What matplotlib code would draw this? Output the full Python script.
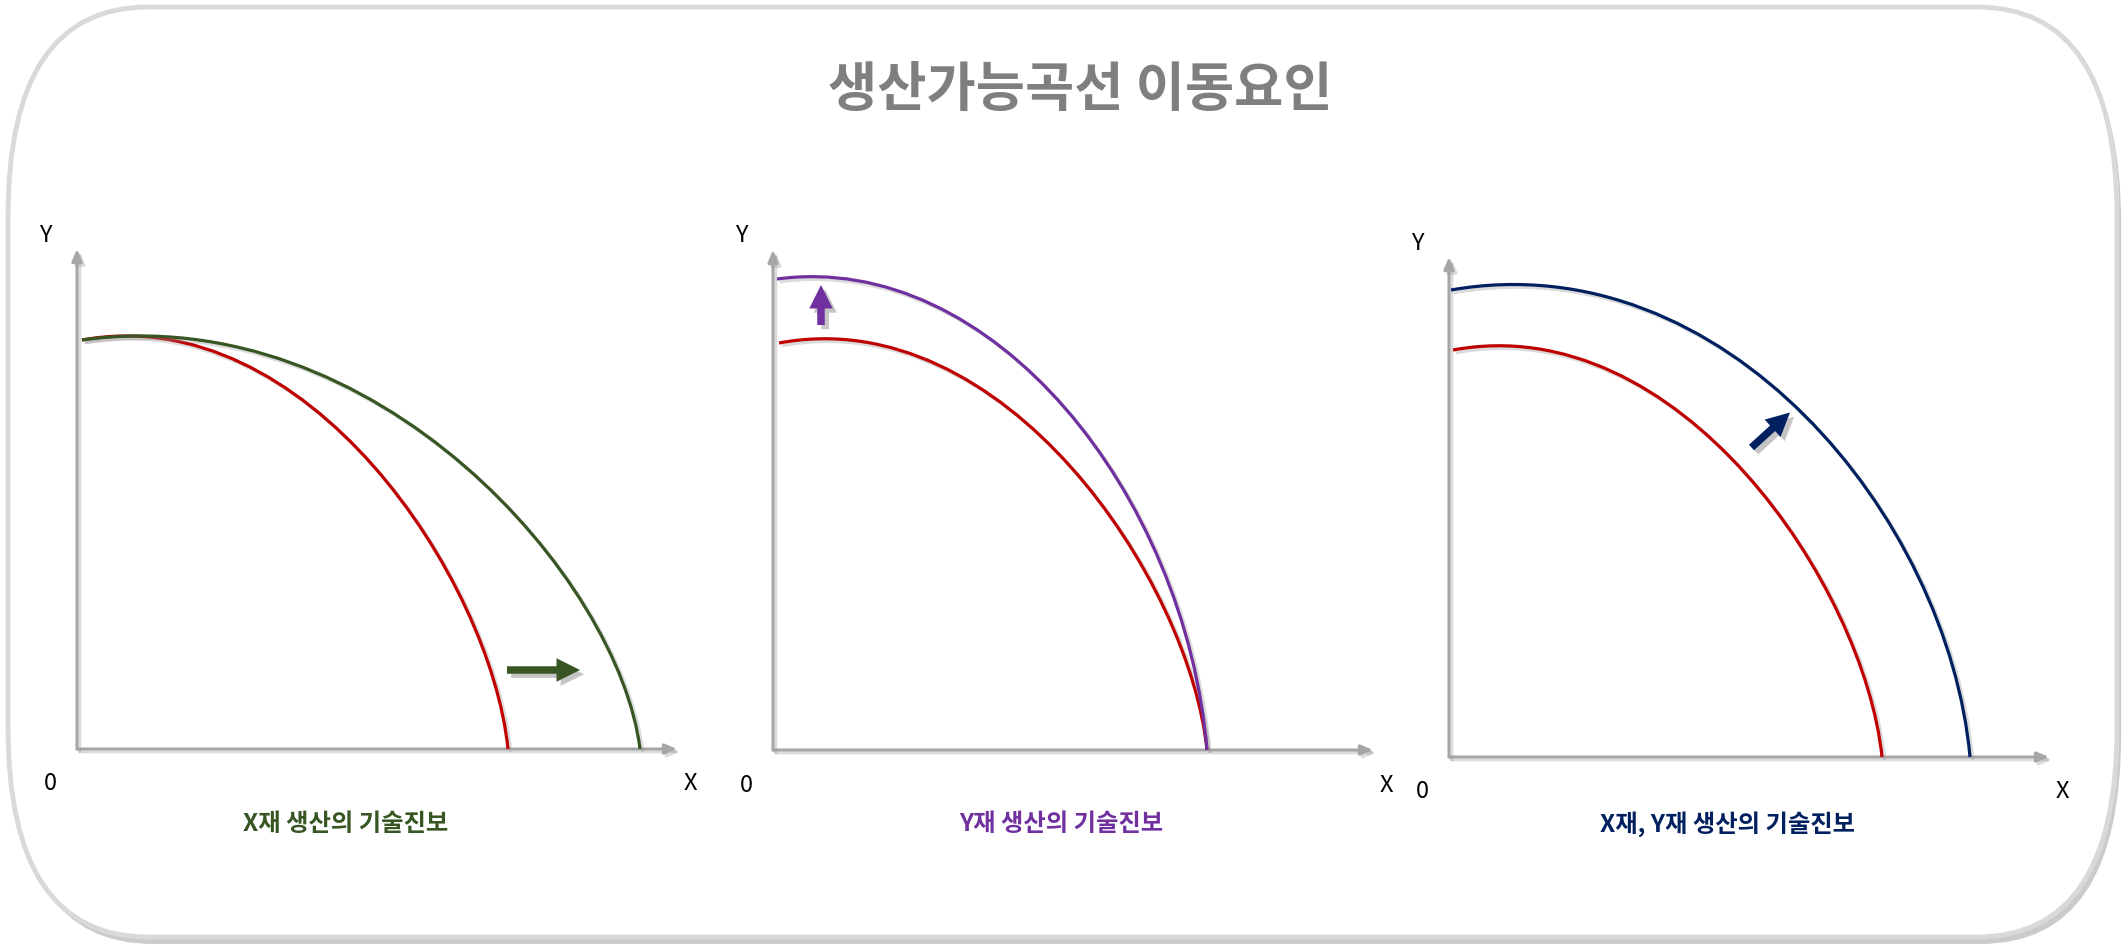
import matplotlib
matplotlib.use('Agg')
import matplotlib.pyplot as plt
from matplotlib.path import Path
from matplotlib.patches import PathPatch, FancyArrow, FancyBboxPatch
import matplotlib.patheffects as pe

plt.rcParams['font.family'] = ['Noto Sans CJK KR', 'DejaVu Sans']

# --- chart content -------------------------------------------------------
title = '생산가능곡선 이동요인'
captions = ['X재 생산의 기술진보', 'Y재 생산의 기술진보', 'X재, Y재 생산의 기술진보']
caption_colors = ['#375623', '#7030a0', '#002060']
axis_labels = ['Y', '0', 'X']

# original PPF (red), cubic Bezier control points per panel
old_ppf_x = [[0.10, 4.60, 8.27, 8.62], [0.12, 4.62, 8.33, 8.68], [0.08, 4.61, 8.31, 8.66]]
old_ppf_y = [[8.18, 9.00, 3.40, 0.00], [8.14, 8.98, 3.40, 0.00], [8.14, 8.98, 3.40, 0.00]]
# shifted PPF, cubic Bezier control points per panel
new_ppf_x = [[0.10, 6.00, 10.84, 11.26], [0.08, 4.40, 8.25, 8.68], [0.04, 5.50, 9.98, 10.42]]
new_ppf_y = [[8.18, 9.00, 3.40, 0.00], [9.42, 10.00, 5.10, 0.00], [9.34, 10.30, 4.80, 0.00]]
# shift arrows (start, end)
shift_start = [(8.60, 1.58), (0.96, 8.50), (6.05, 6.19)]
shift_end = [(10.06, 1.58), (0.96, 9.30), (6.82, 6.89)]

old_color = '#c00000'
axis_color = '#a6a6a6'

# --- layout (pixels) -----------------------------------------------------
W, H = 2127, 948
origins = [(77, 749), (773, 750), (1449, 757)]
unit = 50  # pixels per data unit

fig = plt.figure(figsize=(W / 100, H / 100), dpi=100)
fig.patch.set_facecolor('white')

# rounded frame behind everything
bg = fig.add_axes([0, 0, 1, 1], zorder=0)
bg.set_xlim(0, W)
bg.set_ylim(0, H)
bg.axis('off')
frame = FancyBboxPatch((8, 11), 2109, 930,
                       boxstyle='round,pad=0,rounding_size=140',
                       mutation_aspect=1.5, fc='white', ec='#d9d9d9', lw=3.5,
                       path_effects=[pe.SimplePatchShadow(offset=(3, -5), shadow_rgbFace='#bfbfbf', alpha=0.8),
                                     pe.Normal()])
bg.add_patch(frame)

fig.text(1080 / W, 1 - 90 / H, title, ha='center', va='center',
         fontsize=38.5, fontweight='bold', color='#7f7f7f')

line_fx = [pe.SimpleLineShadow(offset=(2, -2), shadow_color='#999999', alpha=0.35), pe.Normal()]
arrow_fx = [pe.SimplePatchShadow(offset=(3, -3), shadow_rgbFace='#808080', alpha=0.45), pe.Normal()]


def bezier(ax, xs, ys, color):
    verts = list(zip(xs, ys))
    codes = [Path.MOVETO, Path.CURVE4, Path.CURVE4, Path.CURVE4]
    patch = PathPatch(Path(verts, codes), fill=False, ec=color, lw=2.3,
                      clip_on=False, path_effects=line_fx, zorder=3)
    ax.add_patch(patch)


for i, (ox, oy) in enumerate(origins):
    ax = fig.add_axes([ox / W, (H - oy) / H, 12 * unit / W, 10 * unit / H], zorder=1)
    ax.set_xlim(0, 12)
    ax.set_ylim(0, 10)
    ax.axis('off')

    # axes with arrow heads
    for tip in [(12, 0), (0, 10)]:
        ax.annotate('', xy=tip, xytext=(0, 0),
                    arrowprops=dict(arrowstyle='-|>,head_length=0.7,head_width=0.3',
                                    color=axis_color, lw=2.2, shrinkA=0, shrinkB=0,
                                    path_effects=line_fx),
                    annotation_clip=False)

    ax.text(-0.64, 10.28, axis_labels[0], fontsize=17, ha='center', va='center', color='black')
    ax.text(-0.54, -0.70, axis_labels[1], fontsize=17, ha='center', va='center', color='black')
    ax.text(12.26, -0.70, axis_labels[2], fontsize=17, ha='center', va='center', color='black')

    bezier(ax, old_ppf_x[i], old_ppf_y[i], old_color)
    bezier(ax, new_ppf_x[i], new_ppf_y[i], caption_colors[i])

    (x0, y0), (x1, y1) = shift_start[i], shift_end[i]
    arr = FancyArrow(x0, y0, x1 - x0, y1 - y0, width=0.15, head_width=0.47,
                     head_length=0.47, length_includes_head=True,
                     fc=caption_colors[i], ec='none', clip_on=False,
                     path_effects=arrow_fx, zorder=4)
    ax.add_patch(arr)

cap_pos = [(5.38, -1.50), (5.76, -1.48), (5.56, -1.34)]
for i, (ox, oy) in enumerate(origins):
    cx, cy = cap_pos[i]
    fig.text((ox + cx * unit) / W, (H - oy + cy * unit) / H, captions[i],
             ha='center', va='center', fontsize=17.5, fontweight='bold',
             color=caption_colors[i])

fig.savefig('out.png', dpi=100, facecolor='white')
